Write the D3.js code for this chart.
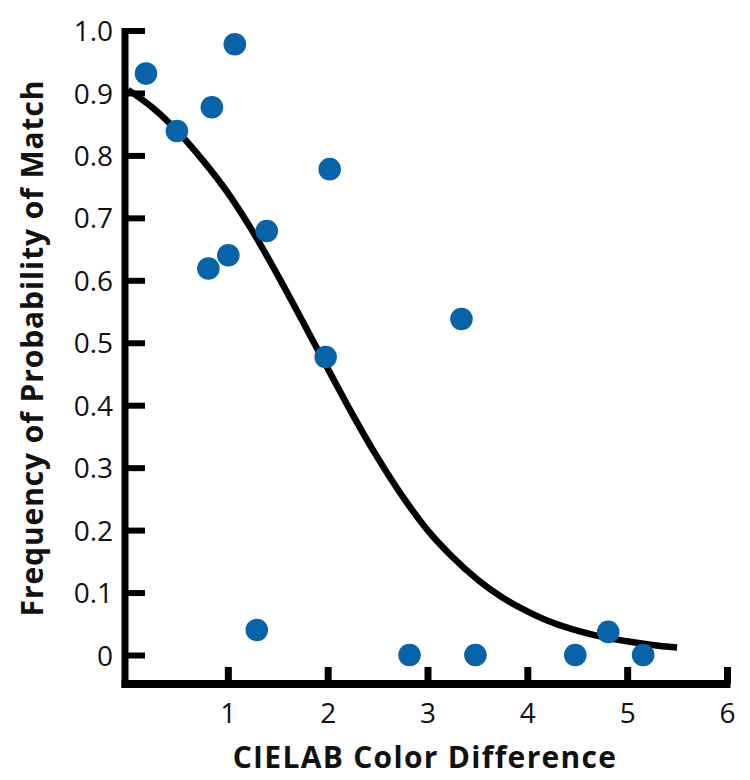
<!DOCTYPE html>
<html>
<head>
<meta charset="utf-8">
<script src="https://cdn.jsdelivr.net/npm/d3@7"></script>
<style>
  html, body { margin: 0; padding: 0; background: #fff; }
  svg { display: block; }
</style>
</head>
<body>
<svg id="chart" width="750" height="780"></svg>
<script>
// ---- data ----
const pointX = [0.18, 0.49, 0.84, 1.07, 0.805, 1.005, 1.39, 2.02, 1.98, 3.34, 1.29, 2.82, 3.48, 4.48, 4.81, 5.16];
const pointY = [0.931, 0.839, 0.877, 0.978, 0.619, 0.640, 0.679, 0.778, 0.477, 0.538, 0.040, 0.0, 0.0, 0.0, 0.037, 0.0];

const curveX = [0, 0.25, 0.5, 0.75, 1.0, 1.25, 1.5, 1.75, 2.0, 2.25, 2.5, 2.75, 3.0, 3.25, 3.5, 3.75, 4.0, 4.25, 4.5, 4.75, 5.0, 5.25, 5.5];
const curveY = [0.905, 0.876, 0.838, 0.792, 0.740, 0.678, 0.608, 0.534, 0.459, 0.385, 0.316, 0.254, 0.200, 0.157, 0.121, 0.092, 0.070, 0.052, 0.039, 0.029, 0.022, 0.016, 0.012];

const xTicks = [1, 2, 3, 4, 5, 6];
const yTicks = [0, 0.1, 0.2, 0.3, 0.4, 0.5, 0.6, 0.7, 0.8, 0.9, 1.0];
const yTickLabels = ["0", "0.1", "0.2", "0.3", "0.4", "0.5", "0.6", "0.7", "0.8", "0.9", "1.0"];

const xTitle = "CIELAB Color Difference";
const yTitle = "Frequency of Probability of Match";

// ---- layout ----
const svg = d3.select("#chart");
const font = "'Open Sans', 'Noto Sans', sans-serif";
const axisX = 125, axisY = 684;

const x = d3.scaleLinear().domain([0, 6]).range([128, 727]);
const y = d3.scaleLinear().domain([0, 1]).range([655, 30.5]);

// axes
const gy = svg.append("g").attr("transform", `translate(${axisX},0)`)
  .call(d3.axisLeft(y).tickValues(yTicks)
    .tickFormat((d, i) => yTickLabels[i])
    .tickSizeInner(-20).tickSizeOuter(0).tickPadding(12));
gy.select(".domain").remove();
gy.selectAll(".tick line").attr("stroke", "#000").attr("stroke-width", 6);
gy.selectAll(".tick text").attr("font-family", font).attr("font-size", 28)
  .attr("fill", "#111").attr("dy", "0.36em");

const gx = svg.append("g").attr("transform", `translate(0,${axisY})`)
  .call(d3.axisBottom(x).tickValues(xTicks).tickFormat(d3.format("d"))
    .tickSizeInner(-17).tickSizeOuter(0).tickPadding(19));
gx.select(".domain").remove();
gx.selectAll(".tick line").attr("stroke", "#000").attr("stroke-width", 7);
gx.selectAll(".tick text").attr("font-family", font).attr("font-size", 28)
  .attr("fill", "#111");

// axis lines
svg.append("line").attr("x1", axisX).attr("x2", axisX)
  .attr("y1", 28).attr("y2", axisY + 4)
  .attr("stroke", "#000").attr("stroke-width", 7);
svg.append("line").attr("x1", axisX - 3.5).attr("x2", 730.5)
  .attr("y1", axisY).attr("y2", axisY)
  .attr("stroke", "#000").attr("stroke-width", 8);

// curve
const curveData = curveX.map((v, i) => [v, curveY[i]]);
svg.append("path").datum(curveData)
  .attr("d", d3.line().x(d => x(d[0])).y(d => y(d[1])).curve(d3.curveMonotoneX))
  .attr("fill", "none").attr("stroke", "#000").attr("stroke-width", 6.5);

// points
const pts = pointX.map((v, i) => [v, pointY[i]]);
svg.append("g").selectAll("circle").data(pts).join("circle")
  .attr("cx", d => x(d[0])).attr("cy", d => y(d[1])).attr("r", 11.3)
  .attr("fill", "#0963a8");

// titles
svg.append("text").attr("x", 425).attr("y", 768)
  .attr("text-anchor", "middle").attr("font-family", font)
  .attr("font-weight", 700).attr("font-size", 30).attr("letter-spacing", 1.3)
  .attr("fill", "#111")
  .text(xTitle);
svg.append("text").attr("transform", "translate(43,348) rotate(-90)")
  .attr("text-anchor", "middle").attr("font-family", font)
  .attr("font-weight", 700).attr("font-size", 30).attr("letter-spacing", 0.9)
  .attr("fill", "#111")
  .text(yTitle);
</script>
</body>
</html>
